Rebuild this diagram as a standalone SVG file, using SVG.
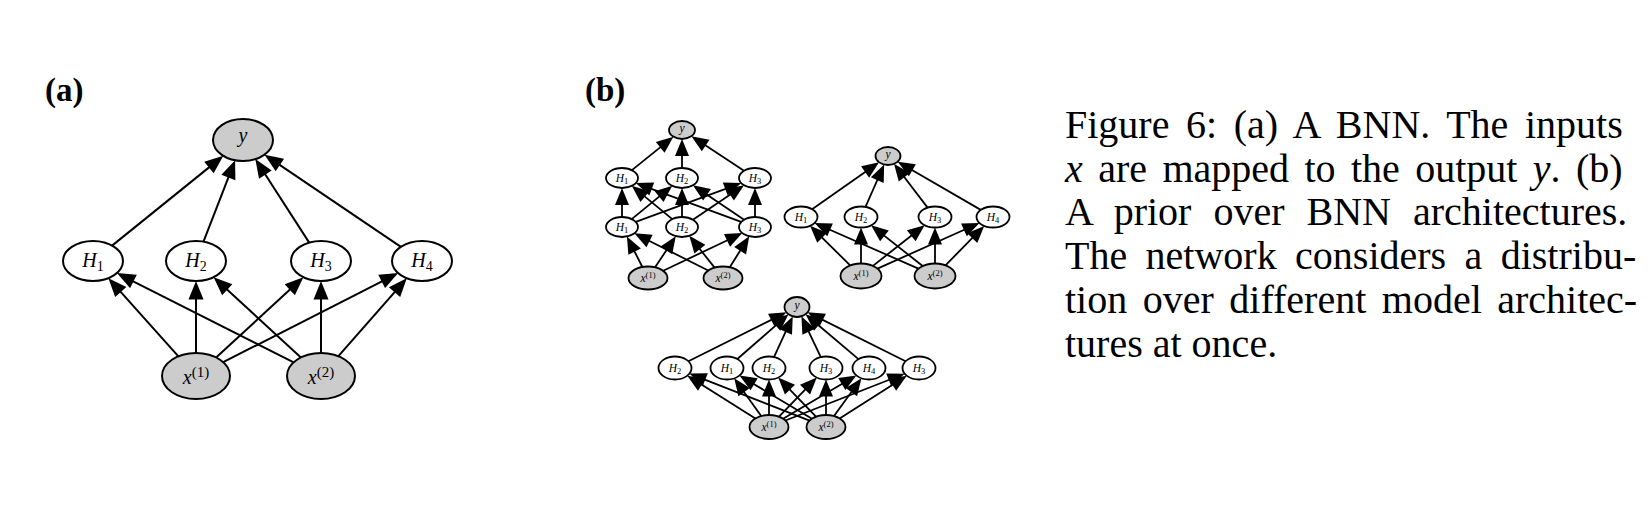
<svg xmlns="http://www.w3.org/2000/svg" width="1652" height="510" viewBox="0 0 1652 510">
<style>
  .bg { fill: #ffffff; }
  .edge-a { fill: none; stroke: #000; stroke-width: 2; marker-end: url(#arrowA); }
  .edge-b { fill: none; stroke: #000; stroke-width: 1.8; marker-end: url(#arrowB); }
  .na { fill: #fff; stroke: #000; stroke-width: 2; }
  .ga { fill: #cccccc; stroke: #000; stroke-width: 2; }
  .nb { fill: #fff; stroke: #000; stroke-width: 1.8; }
  .gb { fill: #cccccc; stroke: #000; stroke-width: 1.8; }
  text { font-family: "Liberation Serif", "Times New Roman", serif; fill: #000; }
  .la { font-size: 20px; text-anchor: middle; }
  .lb { font-size: 11.5px; text-anchor: middle; }
  .it { font-style: italic; }
  .panel { font-size: 33px; font-weight: bold; }
  .cap { font-size: 40px; }
</style>
<defs>
  <marker id="arrowA" markerUnits="userSpaceOnUse" viewBox="-3 -8 20 16" refX="0" refY="0" markerWidth="20" markerHeight="16" orient="auto">
    <path d="M-2.5,-7.5 L16,0 L-2.5,7.5 Z" fill="#000"/>
  </marker>
  <marker id="arrowB" markerUnits="userSpaceOnUse" viewBox="-5 -8 19 16" refX="0" refY="0" markerWidth="19" markerHeight="16" orient="auto">
    <path d="M-4,-7 L13,0 L-4,7 Z" fill="#000"/>
  </marker>
</defs>
<rect class="bg" x="0" y="0" width="1652" height="510"/>

<text class="panel" x="45" y="101">(a)</text>
<text class="panel" x="585" y="101">(b)</text>

<g id="connectors">
  <!-- panel a -->
  <path class="edge-a" d="M112.1,245.6 L210.9,165.9"/>
  <path class="edge-a" d="M203.5,241.6 L229.3,175.2"/>
  <path class="edge-a" d="M309.2,242.6 L264.0,172.5"/>
  <path class="edge-a" d="M400.9,246.8 L277.8,163.6"/>
  <path class="edge-a" d="M178.4,356.3 L119.1,290.1"/>
  <path class="edge-a" d="M196,353 L196,297"/>
  <path class="edge-a" d="M216.1,357.5 L291.6,288.0"/>
  <path class="edge-a" d="M223.2,362.2 L383.9,280.3"/>
  <path class="edge-a" d="M293.7,362.3 L131.2,280.3"/>
  <path class="edge-a" d="M300.9,357.5 L225.4,288.0"/>
  <path class="edge-a" d="M321,353 L321,297"/>
  <path class="edge-a" d="M338.4,356.2 L396.2,290.3"/>
  <!-- panel b, graph 1 -->
  <path class="edge-b" d="M631.9,170.1 L663.3,144.9"/>
  <path class="edge-b" d="M682,168 L682,152"/>
  <path class="edge-b" d="M744.0,170.8 L702.3,143.3"/>
  <path class="edge-b" d="M622,217 L622,201"/>
  <path class="edge-b" d="M682,217 L682,201"/>
  <path class="edge-b" d="M755,217 L755,201"/>
  <path class="edge-b" d="M631.7,219.1 L662.2,194.1"/>
  <path class="edge-b" d="M672.3,219.1 L641.8,194.1"/>
  <path class="edge-b" d="M635.8,221.9 L729.0,187.6"/>
  <path class="edge-b" d="M741.2,221.9 L648.0,187.6"/>
  <path class="edge-b" d="M692.9,219.7 L733.3,192.5"/>
  <path class="edge-b" d="M744.1,219.7 L703.7,192.5"/>
  <path class="edge-b" d="M642.4,267.0 L632.8,248.1"/>
  <path class="edge-b" d="M655.1,267.3 L668.6,247.0"/>
  <path class="edge-b" d="M663.2,270.8 L730.6,238.7"/>
  <path class="edge-b" d="M708.2,270.5 L646.0,239.2"/>
  <path class="edge-b" d="M714.6,267.6 L697.4,246.0"/>
  <path class="edge-b" d="M729.8,267.2 L742.3,247.3"/>
  <!-- panel b, graph 2 -->
  <path class="edge-b" d="M812.1,209.2 L868.4,169.8"/>
  <path class="edge-b" d="M865.5,206.9 L878.9,176.5"/>
  <path class="edge-b" d="M927.6,207.6 L901.9,174.0"/>
  <path class="edge-b" d="M980.8,209.9 L908.9,168.2"/>
  <path class="edge-b" d="M850.2,265.4 L819.3,234.9"/>
  <path class="edge-b" d="M861,263.5 L861,240.5"/>
  <path class="edge-b" d="M872.6,266.1 L914.4,233.2"/>
  <path class="edge-b" d="M877.5,268.6 L967.6,228.3"/>
  <path class="edge-b" d="M918.4,268.6 L826.4,228.3"/>
  <path class="edge-b" d="M922.7,266.0 L881.3,233.4"/>
  <path class="edge-b" d="M935,263.5 L935,240.5"/>
  <path class="edge-b" d="M945.5,265.3 L975.1,235.2"/>
  <!-- panel b, graph 3 -->
  <path class="edge-b" d="M688.4,361.3 L774.8,318.1"/>
  <path class="edge-b" d="M737.3,359.0 L778.7,322.9"/>
  <path class="edge-b" d="M774.0,357.1 L787.3,328.2"/>
  <path class="edge-b" d="M820.8,357.1 L807.0,328.1"/>
  <path class="edge-b" d="M858.5,359.1 L815.5,322.7"/>
  <path class="edge-b" d="M905.6,361.3 L819.2,318.1"/>
  <path class="edge-b" d="M755.4,418.4 L698.3,382.6"/>
  <path class="edge-b" d="M761.2,416.0 L741.8,388.9"/>
  <path class="edge-b" d="M769,415 L769,392.5"/>
  <path class="edge-b" d="M779.0,416.7 L807.8,386.8"/>
  <path class="edge-b" d="M783.1,418.7 L845.2,382.0"/>
  <path class="edge-b" d="M785.4,420.5 L892.5,378.5"/>
  <path class="edge-b" d="M809.5,420.6 L701.5,378.3"/>
  <path class="edge-b" d="M812.0,418.7 L750.7,382.2"/>
  <path class="edge-b" d="M816.0,416.7 L787.2,386.8"/>
  <path class="edge-b" d="M826,415 L826,392.5"/>
  <path class="edge-b" d="M834.0,416.0 L853.8,388.8"/>
  <path class="edge-b" d="M839.6,418.4 L895.8,382.7"/>
</g>

<!-- panel a nodes -->
<g id="a-y"><ellipse class="ga" cx="243" cy="140" rx="30" ry="21"/><text class="la it" x="243" y="142">y</text></g>
<g id="a-h1"><ellipse class="na" cx="93" cy="261" rx="30" ry="20"/><text class="la" x="93" y="267"><tspan class="it">H</tspan><tspan font-size="14" dy="4">1</tspan></text></g>
<g id="a-h2"><ellipse class="na" cx="196" cy="261" rx="30" ry="20"/><text class="la" x="196" y="267"><tspan class="it">H</tspan><tspan font-size="14" dy="4">2</tspan></text></g>
<g id="a-h3"><ellipse class="na" cx="321" cy="261" rx="30" ry="20"/><text class="la" x="321" y="267"><tspan class="it">H</tspan><tspan font-size="14" dy="4">3</tspan></text></g>
<g id="a-h4"><ellipse class="na" cx="422" cy="261" rx="30" ry="20"/><text class="la" x="422" y="267"><tspan class="it">H</tspan><tspan font-size="14" dy="4">4</tspan></text></g>
<g id="a-x1"><ellipse class="ga" cx="196" cy="376" rx="34" ry="23"/><text class="la" x="196" y="384"><tspan class="it">x</tspan><tspan font-size="15" dy="-7">(1)</tspan></text></g>
<g id="a-x2"><ellipse class="ga" cx="321" cy="376" rx="34" ry="23"/><text class="la" x="321" y="384"><tspan class="it">x</tspan><tspan font-size="15" dy="-7">(2)</tspan></text></g>

<!-- panel b graph 1 -->
<g id="b1-y"><ellipse class="gb" cx="682" cy="130" rx="13" ry="9"/><text class="lb it" x="682" y="131.5">y</text></g>
<g id="b1-t1"><ellipse class="nb" cx="622" cy="178" rx="16" ry="10"/><text class="lb" x="622" y="181.5"><tspan class="it">H</tspan><tspan font-size="8.5" dy="2.5">1</tspan></text></g>
<g id="b1-t2"><ellipse class="nb" cx="682" cy="178" rx="16" ry="10"/><text class="lb" x="682" y="181.5"><tspan class="it">H</tspan><tspan font-size="8.5" dy="2.5">2</tspan></text></g>
<g id="b1-t3"><ellipse class="nb" cx="755" cy="178" rx="16" ry="10"/><text class="lb" x="755" y="181.5"><tspan class="it">H</tspan><tspan font-size="8.5" dy="2.5">3</tspan></text></g>
<g id="b1-b1"><ellipse class="nb" cx="622" cy="227" rx="16" ry="10"/><text class="lb" x="622" y="230.5"><tspan class="it">H</tspan><tspan font-size="8.5" dy="2.5">1</tspan></text></g>
<g id="b1-b2"><ellipse class="nb" cx="682" cy="227" rx="16" ry="10"/><text class="lb" x="682" y="230.5"><tspan class="it">H</tspan><tspan font-size="8.5" dy="2.5">2</tspan></text></g>
<g id="b1-b3"><ellipse class="nb" cx="755" cy="227" rx="16" ry="10"/><text class="lb" x="755" y="230.5"><tspan class="it">H</tspan><tspan font-size="8.5" dy="2.5">3</tspan></text></g>
<g id="b1-x1"><ellipse class="gb" cx="648" cy="278" rx="19.5" ry="11.5"/><text class="lb" x="648" y="282"><tspan class="it">x</tspan><tspan font-size="8.5" dy="-4">(1)</tspan></text></g>
<g id="b1-x2"><ellipse class="gb" cx="723" cy="278" rx="19.5" ry="11.5"/><text class="lb" x="723" y="282"><tspan class="it">x</tspan><tspan font-size="8.5" dy="-4">(2)</tspan></text></g>

<!-- panel b graph 2 -->
<g id="b2-y"><ellipse class="gb" cx="888" cy="156" rx="12.5" ry="9"/><text class="lb it" x="888" y="157.5">y</text></g>
<g id="b2-h1"><ellipse class="nb" cx="801" cy="217" rx="16.5" ry="10.5"/><text class="lb" x="801" y="220.5"><tspan class="it">H</tspan><tspan font-size="8.5" dy="2.5">1</tspan></text></g>
<g id="b2-h2"><ellipse class="nb" cx="861" cy="217" rx="16.5" ry="10.5"/><text class="lb" x="861" y="220.5"><tspan class="it">H</tspan><tspan font-size="8.5" dy="2.5">2</tspan></text></g>
<g id="b2-h3"><ellipse class="nb" cx="935" cy="217" rx="16.5" ry="10.5"/><text class="lb" x="935" y="220.5"><tspan class="it">H</tspan><tspan font-size="8.5" dy="2.5">3</tspan></text></g>
<g id="b2-h4"><ellipse class="nb" cx="993" cy="217" rx="16.5" ry="10.5"/><text class="lb" x="993" y="220.5"><tspan class="it">H</tspan><tspan font-size="8.5" dy="2.5">4</tspan></text></g>
<g id="b2-x1"><ellipse class="gb" cx="861" cy="276" rx="20.5" ry="12.5"/><text class="lb" x="861" y="280"><tspan class="it">x</tspan><tspan font-size="8.5" dy="-4">(1)</tspan></text></g>
<g id="b2-x2"><ellipse class="gb" cx="935" cy="276" rx="20.5" ry="12.5"/><text class="lb" x="935" y="280"><tspan class="it">x</tspan><tspan font-size="8.5" dy="-4">(2)</tspan></text></g>

<!-- panel b graph 3 -->
<g id="b3-y"><ellipse class="gb" cx="797" cy="307" rx="12.5" ry="10"/><text class="lb it" x="797" y="308.5">y</text></g>
<g id="b3-h2a"><ellipse class="nb" cx="675" cy="368" rx="16.5" ry="11.5"/><text class="lb" x="675" y="371.5"><tspan class="it">H</tspan><tspan font-size="8.5" dy="2.5">2</tspan></text></g>
<g id="b3-h1"><ellipse class="nb" cx="727" cy="368" rx="16.5" ry="11.5"/><text class="lb" x="727" y="371.5"><tspan class="it">H</tspan><tspan font-size="8.5" dy="2.5">1</tspan></text></g>
<g id="b3-h2b"><ellipse class="nb" cx="769" cy="368" rx="16.5" ry="11.5"/><text class="lb" x="769" y="371.5"><tspan class="it">H</tspan><tspan font-size="8.5" dy="2.5">2</tspan></text></g>
<g id="b3-h3a"><ellipse class="nb" cx="826" cy="368" rx="16.5" ry="11.5"/><text class="lb" x="826" y="371.5"><tspan class="it">H</tspan><tspan font-size="8.5" dy="2.5">3</tspan></text></g>
<g id="b3-h4"><ellipse class="nb" cx="869" cy="368" rx="16.5" ry="11.5"/><text class="lb" x="869" y="371.5"><tspan class="it">H</tspan><tspan font-size="8.5" dy="2.5">4</tspan></text></g>
<g id="b3-h3b"><ellipse class="nb" cx="919" cy="368" rx="16.5" ry="11.5"/><text class="lb" x="919" y="371.5"><tspan class="it">H</tspan><tspan font-size="8.5" dy="2.5">3</tspan></text></g>
<g id="b3-x1"><ellipse class="gb" cx="769" cy="427" rx="19.5" ry="12"/><text class="lb" x="769" y="431"><tspan class="it">x</tspan><tspan font-size="8.5" dy="-4">(1)</tspan></text></g>
<g id="b3-x2"><ellipse class="gb" cx="826" cy="427" rx="19.5" ry="12"/><text class="lb" x="826" y="431"><tspan class="it">x</tspan><tspan font-size="8.5" dy="-4">(2)</tspan></text></g>

<!-- caption -->
<g id="caption">
  <text class="cap" x="1065" y="138" word-spacing="6.6">Figure 6: (a) A BNN. The inputs</text>
  <text class="cap" x="1065" y="182" word-spacing="5.4"><tspan class="it">x</tspan> are mapped to the output <tspan class="it">y</tspan>. (b)</text>
  <text class="cap" x="1065" y="225" word-spacing="12.0">A prior over BNN architectures.</text>
  <text class="cap" x="1065" y="269" word-spacing="8.4">The network considers a distribu-</text>
  <text class="cap" x="1065" y="313" word-spacing="5.5">tion over different model architec-</text>
  <text class="cap" x="1065" y="357">tures at once.</text>
</g>
</svg>
